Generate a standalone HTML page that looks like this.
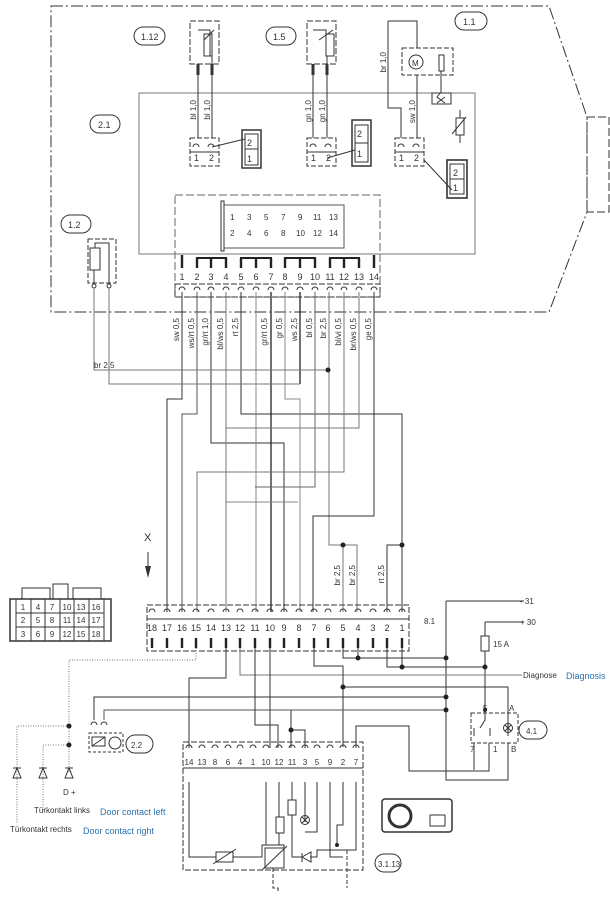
<!DOCTYPE html>
<html><head><meta charset="utf-8"><style>
html,body{margin:0;padding:0;background:#fff;}
svg{display:block;}
text{font-family:"Liberation Sans",sans-serif;fill:#333;}
.b{fill:#2a72b0;}
</style></head><body>
<svg width="610" height="910" viewBox="0 0 610 910" xmlns="http://www.w3.org/2000/svg">
<g fill="none" stroke="#333" stroke-width="1">
<!-- outer box -->
<path d="M51,6 H549 L587,117 V212 L549,312 H51 Z" stroke-dasharray="12,3,2,3"/>
<rect x="587" y="117" width="22" height="95" stroke-dasharray="8,3"/>
<!-- inner 2.1 -->
<rect x="139" y="93" width="336" height="161" stroke="#777"/>
<!-- connector area -->
<rect x="175" y="195" width="205" height="102" stroke-dasharray="8,3" stroke="#666"/>
<rect x="222" y="205" width="122" height="43" stroke="#555"/>
<rect x="221" y="201" width="3" height="50" fill="#fff"/>
<!-- ovals top -->
<rect x="134" y="27" width="31" height="18" rx="9"/>
<rect x="266" y="27" width="30" height="18" rx="9"/>
<rect x="455" y="12" width="32" height="18" rx="9"/>
<rect x="90" y="365" width="0" height="0"/>
<rect x="90" y="115" width="30" height="18" rx="9"/>
<rect x="61" y="215" width="30" height="18" rx="9"/>
<!-- 1.12 sensor -->
<rect x="190" y="21" width="29" height="43" stroke-dasharray="6,2"/>
<path d="M198,30 H210 V56 M204,40 L214,30 M198,64 V138 M212,56 V138"/>
<rect x="204" y="34" width="8" height="22"/>
<path d="M198,64 V75 M212,64 V75" stroke-width="3"/>
<rect x="190" y="138" width="29" height="28" stroke-dasharray="5,2"/>
<path d="M193,147 a3,3 0 0 1 6,0 M208,147 a3,3 0 0 1 6,0 M190,152 H219 M212,147 L245,139"/>
<rect x="242" y="130" width="19" height="38" stroke-width="1.5"/>
<path d="M245,134 H258 V149 H245 Z M245,149 H258 V165 H245 Z"/>
<!-- 1.5 sensor -->
<rect x="307" y="21" width="29" height="43" stroke-dasharray="6,2"/>
<path d="M313,30 H326 V56 M319,40 L333,30 M313,64 V138 M327,56 V138"/>
<rect x="326" y="34" width="8" height="22"/>
<path d="M313,64 V75 M327,64 V75" stroke-width="3"/>
<rect x="307" y="138" width="29" height="28" stroke-dasharray="5,2"/>
<path d="M310,147 a3,3 0 0 1 6,0 M325,147 a3,3 0 0 1 6,0 M307,152 H336 M327,158 L355,150"/>
<rect x="352" y="120" width="19" height="46" stroke-width="1.5"/>
<path d="M355,125 H368 V143 H355 Z M355,143 H368 V162 H355 Z"/>
<!-- 1.1 motor -->
<path d="M388,21 H417 V48 M388,21 V108 H401 V138 M417,75 V138"/>
<rect x="402" y="48" width="51" height="27" stroke-dasharray="5,2"/>
<circle cx="416" cy="62" r="7"/>
<rect x="439" y="55" width="5" height="16"/>
<path d="M441,71 V92 L437,97 L445,103 M445,97 L437,103"/>
<rect x="432" y="93" width="19" height="11"/>
<rect x="395" y="138" width="29" height="28" stroke-dasharray="5,2"/>
<path d="M398,147 a3,3 0 0 1 6,0 M413,147 a3,3 0 0 1 6,0 M395,152 H424 M424,160 L452,190"/>
<rect x="447" y="160" width="20" height="38" stroke-width="1.6"/>
<path d="M450,164 H464 V179 H450 Z M450,179 H464 V194 H450 Z"/>
<rect x="456" y="118" width="8" height="17"/>
<path d="M460,110 V118 M460,135 V143 M452,134 L466,117"/>
<!-- 1.2 -->
<rect x="88" y="239" width="28" height="44" stroke-dasharray="5,2"/>
<rect x="90" y="248" width="10" height="22"/>
<path d="M95,248 V243 H109 V283 M94,270 V283"/>
<circle cx="94" cy="286" r="2" fill="#fff"/><circle cx="109" cy="286" r="2" fill="#fff"/>
<!-- upper pin strip -->
<rect x="175" y="284" width="205" height="13" stroke-dasharray="6,2"/>
</g>
<g stroke="#222" stroke-width="2.4">
<path d="M182,255 V268 M197,258 V268 M211,258 V268 M226,258 V268 M241,258 V268 M256,258 V268 M271,258 V268 M285,258 V268 M300,258 V268 M315,258 V268 M330,258 V268 M344,258 V268 M359,258 V268 M374,255 V268"/>
<path d="M196,258 H227 M240,258 H272 M284,258 H316 M329,258 H360" stroke-width="2"/>
</g>
<g fill="none" stroke="#333" stroke-width="1">
<path d="M179,290 a3,3 0 0 1 6,0 M194,290 a3,3 0 0 1 6,0 M208,290 a3,3 0 0 1 6,0 M223,290 a3,3 0 0 1 6,0 M238,290 a3,3 0 0 1 6,0 M253,290 a3,3 0 0 1 6,0 M268,290 a3,3 0 0 1 6,0 M282,290 a3,3 0 0 1 6,0 M297,290 a3,3 0 0 1 6,0 M312,290 a3,3 0 0 1 6,0 M327,290 a3,3 0 0 1 6,0 M341,290 a3,3 0 0 1 6,0 M356,290 a3,3 0 0 1 6,0 M371,290 a3,3 0 0 1 6,0"/>
<!-- middle wiring -->
<path d="M182,292 V399 H167 V612"/>
<path d="M197,292 V414 H182 V612" stroke="#555"/>
<path d="M211,292 V443 H284 V612"/>
<path d="M226,292 V612" stroke="#777"/>
<path d="M241,292 V414 H402 V612"/>
<path d="M256,292 V612" stroke="#888"/>
<path d="M271,292 V612" stroke="#222" stroke-width="1.3"/>
<path d="M285,292 V399 H300 V612" stroke="#888"/>
<path d="M300,292 V384" stroke="#222" stroke-width="1.3"/>
<path d="M315,292 V487 H255" stroke="#666"/>
<path d="M329,292 V545 H357 V612 M343,545 V612" stroke="#777"/>
<path d="M344,292 V472 H197 V612" stroke="#777"/>
<path d="M359,292 V428 H226" stroke="#777"/>
<path d="M374,292 V516 H313 V612"/>
<path d="M387,612 V545 H402"/>
<path d="M226,502 H298" stroke="#888"/>
<path d="M94,288 V370 H328 M109,288 V384 H300" stroke="#777"/>
</g>
<g fill="#222">
<circle cx="328" cy="370" r="2.5"/><circle cx="343" cy="545" r="2.5"/><circle cx="402" cy="545" r="2.5"/>
</g>
<!-- X arrow -->
<path d="M148,552 V572" stroke="#333" stroke-width="1"/>
<path d="M145,566 L148,578 L151,566 Z" fill="#333"/>
<text x="144" y="541" font-size="11">X</text>
<!-- lower connector -->
<g fill="none" stroke="#333" stroke-width="1">
<rect x="147" y="605" width="262" height="46" stroke-dasharray="6,2"/>
<path d="M147,619 H409"/>
<path d="M149,612 a3,3 0 0 1 6,0 M164,612 a3,3 0 0 1 6,0 M179,612 a3,3 0 0 1 6,0 M193,612 a3,3 0 0 1 6,0 M208,612 a3,3 0 0 1 6,0 M223,612 a3,3 0 0 1 6,0 M237,612 a3,3 0 0 1 6,0 M252,612 a3,3 0 0 1 6,0 M267,612 a3,3 0 0 1 6,0 M281,612 a3,3 0 0 1 6,0 M296,612 a3,3 0 0 1 6,0 M311,612 a3,3 0 0 1 6,0 M325,612 a3,3 0 0 1 6,0 M340,612 a3,3 0 0 1 6,0 M355,612 a3,3 0 0 1 6,0 M370,612 a3,3 0 0 1 6,0 M384,612 a3,3 0 0 1 6,0 M399,612 a3,3 0 0 1 6,0"/>
</g>
<g stroke="#222" stroke-width="2.4">
<path d="M152,638 V648 M167,638 V648 M182,638 V648 M196,638 V648 M211,638 V648 M226,638 V648 M240,638 V648 M255,638 V648 M270,638 V648 M284,638 V648 M299,638 V648 M314,638 V648 M328,638 V648 M343,638 V648 M358,638 V648 M373,638 V648 M387,638 V648 M402,638 V648"/>
</g>
<!-- lower wiring -->
<g fill="none" stroke="#333" stroke-width="1">
<path d="M446,601 H524 M446,601 V780 H508 V743"/>
<path d="M485,622 H524 M485,622 V706"/>
<rect x="481" y="636" width="8" height="15" fill="#fff"/>
<path d="M343,648 V658 H446 M358,648 V658"/>
<path d="M387,648 V667 H485 M402,648 V667"/>
<path d="M240,648 V675 H522" stroke="#777"/>
<path d="M314,648 V666 H343 V747 M343,687 H508 V706"/>
<path d="M226,648 V678 H189 V748"/>
<path d="M94,720 V697 H446"/>
<path d="M104,720 V710 H446" stroke="#555"/>
<path d="M291,710 V748 M291,730 H305 V748"/>
<path d="M255,648 V725 H278 V748"/>
<path d="M270,648 V748"/>
<path d="M356,748 V726 H409 V771 H489 V743"/>
<path d="M474,743 V770" />
<path d="M196,648 V660 H69 V772 M69,726 H17 V823 M69,745 H43 V810" stroke-dasharray="1,1.5" stroke="#777"/>
<!-- 4.1 -->
<rect x="471" y="713" width="47" height="30" stroke-dasharray="4,2"/>
<path d="M485,706 V720 L480,728 M474,728 V736 M490,728 V736 M508,706 V736"/>
<circle cx="508" cy="728" r="4.5"/>
<path d="M505,725 L511,731 M511,725 L505,731"/>
<rect x="519" y="721" width="28" height="18" rx="9"/>
<!-- 2.2 -->
<path d="M91,725 a3,3 0 0 1 6,0 M101,725 a3,3 0 0 1 6,0"/>
<rect x="89" y="733" width="34" height="19" stroke-dasharray="3,2"/>
<rect x="92" y="737" width="13" height="9"/>
<path d="M92,746 L105,737"/>
<circle cx="115" cy="743" r="6"/>
<rect x="126" y="735" width="27" height="18" rx="9"/>
<!-- diodes -->
<path d="M13,778 L17,768 L21,778 Z M13,768 H21 M39,778 L43,768 L47,778 Z M39,768 H47 M65,778 L69,768 L73,778 Z M65,768 H73"/>
<!-- 3.1.13 -->
<rect x="183" y="742" width="180" height="128" stroke-dasharray="6,2"/>
<path d="M183,768 H363"/>
<path d="M186,748 a3,3 0 0 1 6,0 M199,748 a3,3 0 0 1 6,0 M212,748 a3,3 0 0 1 6,0 M225,748 a3,3 0 0 1 6,0 M237,748 a3,3 0 0 1 6,0 M250,748 a3,3 0 0 1 6,0 M263,748 a3,3 0 0 1 6,0 M276,748 a3,3 0 0 1 6,0 M289,748 a3,3 0 0 1 6,0 M302,748 a3,3 0 0 1 6,0 M314,748 a3,3 0 0 1 6,0 M327,748 a3,3 0 0 1 6,0 M340,748 a3,3 0 0 1 6,0 M353,748 a3,3 0 0 1 6,0"/>
<path d="M189,782 V857 H216 M233,857 H262 V845 H284 V857 M266,782 V845 M279,782 V817 M279,833 V845 M292,782 V800 M292,815 V857 H302 M305,782 V822 M317,782 V832 H305 M330,782 V857 H343 M343,782 V825 H337 V845 M356,782 V850 H317 V857 H310"/>
<rect x="216" y="852" width="17" height="10"/>
<path d="M213,864 L236,849"/>
<rect x="265" y="848" width="19" height="20"/>
<path d="M262,870 L287,846"/>
<rect x="276" y="817" width="8" height="16"/>
<rect x="288" y="800" width="8" height="15"/>
<circle cx="305" cy="820" r="4.5"/>
<path d="M302,817 L308,823 M308,817 L302,823"/>
<path d="M302,853 V862 M302,857 L311,852 V862 Z"/>
<path d="M273,868 V888 H278 V892 M347,850 V888" stroke-dasharray="4,2"/>
<rect x="375" y="854" width="26" height="18" rx="9"/>
<!-- photo icon -->
<rect x="382" y="799" width="70" height="33" rx="3" stroke-width="1.5"/>
<circle cx="400" cy="816" r="11" stroke-width="3"/>
<rect x="430" y="815" width="15" height="11"/>
<!-- connector pictogram -->
<rect x="10" y="599" width="101" height="42" stroke-width="1.5"/>
<rect x="16" y="599" width="88" height="42"/>
<path d="M16,613 H104 M16,627 H104 M31,599 V641 M45,599 V641 M60,599 V641 M74,599 V641 M89,599 V641"/>
<rect x="22" y="588" width="28" height="11"/>
<rect x="53" y="584" width="15" height="15"/>
<rect x="73" y="588" width="28" height="11"/>
</g>
<g fill="#222"><circle cx="358" cy="658" r="2.5"/><circle cx="446" cy="658" r="2.5"/><circle cx="402" cy="667" r="2.5"/><circle cx="485" cy="667" r="2.5"/><circle cx="343" cy="687" r="2.5"/><circle cx="446" cy="697" r="2.5"/><circle cx="446" cy="710" r="2.5"/><circle cx="291" cy="730" r="2.5"/><circle cx="69" cy="726" r="2.5"/><circle cx="69" cy="745" r="2.5"/><circle cx="337" cy="845" r="2"/><circle cx="485" cy="710" r="2"/></g>
<!-- texts -->
<g font-size="9">
<text x="141" y="40">1.12</text><text x="273" y="40">1.5</text><text x="463" y="25">1.1</text><text x="98" y="128">2.1</text><text x="68" y="228">1.2</text>
<text x="194" y="161">1</text><text x="209" y="161">2</text><text x="311" y="161">1</text><text x="326" y="161">2</text><text x="399" y="161">1</text><text x="414" y="161">2</text>
<text x="247" y="146">2</text><text x="247" y="162">1</text><text x="357" y="137">2</text><text x="357" y="157">1</text><text x="453" y="176">2</text><text x="453" y="191">1</text>
<text x="412" y="66" font-size="8">M</text>
</g>
<g font-size="8">
<text x="230" y="220">1</text><text x="247" y="220">3</text><text x="264" y="220">5</text><text x="281" y="220">7</text><text x="298" y="220">9</text><text x="313" y="220">11</text><text x="329" y="220">13</text>
<text x="230" y="236">2</text><text x="247" y="236">4</text><text x="264" y="236">6</text><text x="281" y="236">8</text><text x="296" y="236">10</text><text x="313" y="236">12</text><text x="329" y="236">14</text>
</g>
<g font-size="9" text-anchor="middle">
<text x="182" y="280">1</text><text x="197" y="280">2</text><text x="211" y="280">3</text><text x="226" y="280">4</text><text x="241" y="280">5</text><text x="256" y="280">6</text><text x="271" y="280">7</text><text x="285" y="280">8</text><text x="300" y="280">9</text><text x="315" y="280">10</text><text x="330" y="280">11</text><text x="344" y="280">12</text><text x="359" y="280">13</text><text x="374" y="280">14</text>
<text x="152" y="631">18</text><text x="167" y="631">17</text><text x="182" y="631">16</text><text x="196" y="631">15</text><text x="211" y="631">14</text><text x="226" y="631">13</text><text x="240" y="631">12</text><text x="255" y="631">11</text><text x="270" y="631">10</text><text x="284" y="631">9</text><text x="299" y="631">8</text><text x="314" y="631">7</text><text x="328" y="631">6</text><text x="343" y="631">5</text><text x="358" y="631">4</text><text x="373" y="631">3</text><text x="387" y="631">2</text><text x="402" y="631">1</text>
</g>
<g font-size="8" text-anchor="middle">
<text x="189" y="765">14</text><text x="202" y="765">13</text><text x="215" y="765">8</text><text x="228" y="765">6</text><text x="240" y="765">4</text><text x="253" y="765">1</text><text x="266" y="765">10</text><text x="279" y="765">12</text><text x="292" y="765">11</text><text x="305" y="765">3</text><text x="317" y="765">5</text><text x="330" y="765">9</text><text x="343" y="765">2</text><text x="356" y="765">7</text>
<text x="23" y="610">1</text><text x="38" y="610">4</text><text x="52" y="610">7</text><text x="67" y="610">10</text><text x="81" y="610">13</text><text x="96" y="610">16</text>
<text x="23" y="623">2</text><text x="38" y="623">5</text><text x="52" y="623">8</text><text x="67" y="623">11</text><text x="81" y="623">14</text><text x="96" y="623">17</text>
<text x="23" y="637">3</text><text x="38" y="637">6</text><text x="52" y="637">9</text><text x="67" y="637">12</text><text x="81" y="637">15</text><text x="96" y="637">18</text>
</g>
<g font-size="8">
<g transform="rotate(-90)" text-anchor="end">
<text x="-318" y="179">sw 0,5</text><text x="-318" y="194">ws/rt 0,5</text><text x="-318" y="208">gr/rt 1,0</text><text x="-318" y="223">bl/ws 0,5</text><text x="-318" y="238">rt 2,5</text><text x="-318" y="267">gr/rt 0,5</text><text x="-318" y="282">gr 0,5</text><text x="-318" y="297">ws 2,5</text><text x="-318" y="312">bl 0,5</text><text x="-318" y="326">br 2,5</text><text x="-318" y="341">bl/vi 0,5</text><text x="-318" y="356">br/ws 0,5</text><text x="-318" y="371">ge 0,5</text>
<text x="-565" y="340">br 2,5</text><text x="-565" y="355">br 2,5</text><text x="-565" y="384">rt 2,5</text>
<text x="-100" y="196">bl 1,0</text><text x="-100" y="210">bl 1,0</text><text x="-100" y="311">gn 1,0</text><text x="-100" y="325">gn 1,0</text><text x="-52" y="386">br 1,0</text><text x="-100" y="415">sw 1,0</text>
</g>
<text x="94" y="368">br 2,5</text>
<text x="424" y="624">8.1</text><text x="520" y="604">- 31</text><text x="520" y="625">+ 30</text><text x="493" y="647">15 A</text>
<text x="523" y="678">Diagnose</text><text x="566" y="679" font-size="9" class="b">Diagnosis</text>
<text x="483" y="711">5</text><text x="509" y="711">A</text><text x="470" y="752">7</text><text x="493" y="752">1</text><text x="511" y="752">B</text>
<text x="526" y="734">4.1</text><text x="131" y="748">2.2</text><text x="378" y="867">3.1.13</text>
<text x="63" y="795">D +</text>
<text x="34" y="813">Türkontakt links</text><text x="100" y="815" font-size="9" class="b">Door contact left</text>
<text x="10" y="832">Türkontakt rechts</text><text x="83" y="834" font-size="9" class="b">Door contact right</text>
</g>
</svg>
</body></html>
